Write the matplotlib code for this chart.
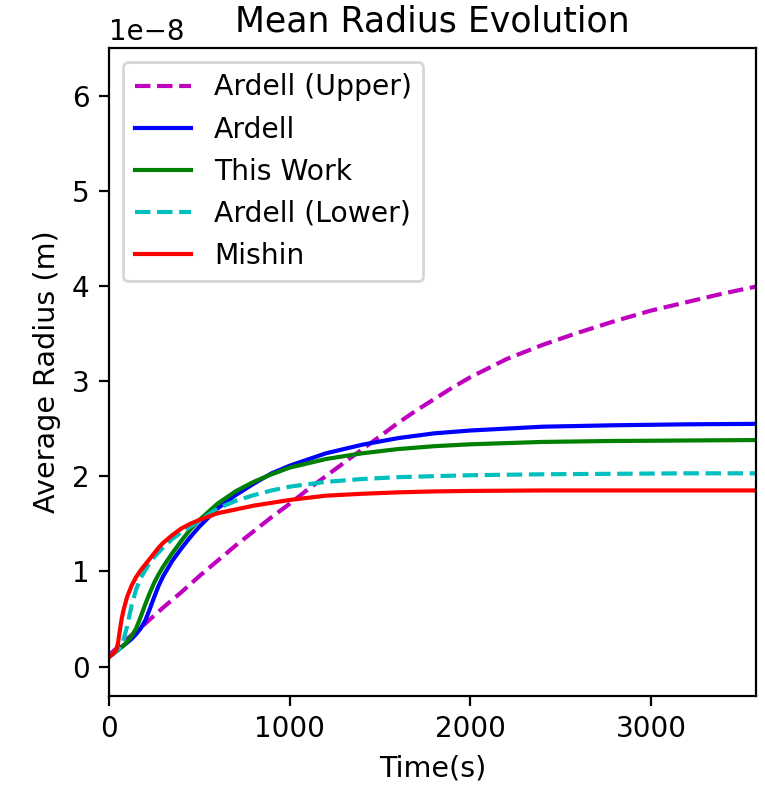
import numpy as np
import matplotlib
matplotlib.use("Agg")
import matplotlib.pyplot as plt

# time grid for the Ardell (Upper) curve (s)
time_upper_s = [0, 100, 200, 300, 400, 500, 600, 700, 800, 900, 1000, 1100, 1200, 1300, 1400,
                1500, 1600, 1700, 1800, 1900, 2000, 2200, 2400, 2600, 2800, 3000, 3200, 3400, 3600]
ardell_upper_nm = [1.2, 2.9, 4.5, 6.2, 7.8, 9.5, 11.1, 12.7, 14.2, 15.7, 17.1, 18.6, 20.0, 21.4, 22.8,
                   24.2, 25.6, 26.9, 28.1, 29.3, 30.4, 32.3, 33.8, 35.1, 36.3, 37.4, 38.3, 39.2, 40.0]

# time grid for the other curves (s)
time_s = [0, 20, 40, 50, 60, 70, 80, 100, 125, 150, 175, 200, 225, 250, 275, 300, 350, 400, 450, 500,
          600, 700, 800, 900, 1000, 1200, 1400, 1600, 1800, 2000, 2400, 2800, 3200, 3600]

# mean radius in nm
ardell_nm = [1.0, 1.3, 1.6, 1.75, 1.9, 2.05, 2.2, 2.5, 2.9, 3.4, 4.0, 4.8, 6.0, 7.3, 8.5, 9.5, 11.1,
             12.4, 13.6, 14.7, 16.6, 18.0, 19.2, 20.3, 21.1, 22.4, 23.3, 24.0, 24.5, 24.8, 25.2, 25.35,
             25.45, 25.5]
this_work_nm = [1.0, 1.3, 1.6, 1.75, 1.9, 2.05, 2.2, 2.6, 3.2, 4.0, 5.2, 6.5, 7.7, 8.8, 9.7, 10.5,
                11.9, 13.2, 14.4, 15.4, 17.1, 18.4, 19.4, 20.2, 20.9, 21.8, 22.4, 22.85, 23.15, 23.35,
                23.6, 23.7, 23.75, 23.8]
ardell_lower_nm = [1.0, 1.3, 1.6, 1.7, 1.9, 2.3, 2.8, 4.2, 6.4, 8.1, 9.3, 10.1, 10.9, 11.5, 12.0, 12.5,
                   13.4, 14.1, 14.7, 15.3, 16.6, 17.4, 18.0, 18.5, 18.9, 19.4, 19.7, 19.9, 20.0, 20.1,
                   20.2, 20.25, 20.3, 20.3]
mishin_nm = [1.0, 1.3, 1.7, 2.5, 3.8, 5.0, 5.9, 7.3, 8.5, 9.4, 10.1, 10.7, 11.3, 11.9, 12.5, 13.0,
             13.8, 14.5, 15.0, 15.4, 16.1, 16.5, 16.9, 17.2, 17.5, 17.95, 18.15, 18.3, 18.4, 18.45,
             18.5, 18.5, 18.5, 18.5]

nm = 1e-9

fig = plt.figure(figsize=(3.825, 3.93), dpi=200)
ax = fig.add_axes([0.1425, 0.1145, 0.8455, 0.8245])

ax.plot(time_upper_s, np.array(ardell_upper_nm) * nm, 'm--', label='Ardell (Upper)')
ax.plot(time_s, np.array(ardell_nm) * nm, 'b-', label='Ardell')
ax.plot(time_s, np.array(this_work_nm) * nm, 'g-', label='This Work')
ax.plot(time_s, np.array(ardell_lower_nm) * nm, 'c--', label='Ardell (Lower)')
ax.plot(time_s, np.array(mishin_nm) * nm, 'r-', label='Mishin')

ax.set_xlim(0, 3580)
ax.set_ylim(-0.31e-8, 6.5e-8)
ax.set_xticks([0, 1000, 2000, 3000])
ax.set_xlabel("Time(s)", fontsize=10.3)
ax.set_ylabel("Average Radius (m)", fontsize=10.3)
ax.set_title("Mean Radius Evolution", fontsize=12.5)
ax.legend(loc='upper left', fontsize=10.2)

fig.savefig("out.png", dpi=200)
